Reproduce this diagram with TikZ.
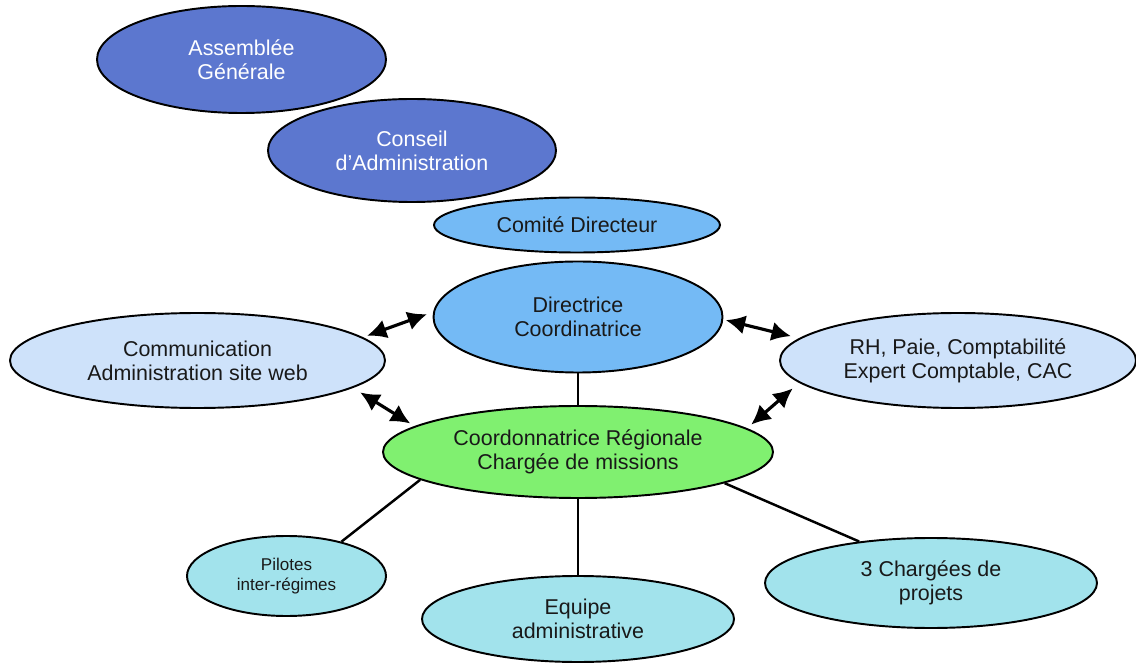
\documentclass[tikz,border=0pt]{standalone}
\usepackage{fontspec}
\setmainfont{Liberation Sans}
\usepackage{xcolor}
\usepackage{tikz}
\usetikzlibrary{shapes.geometric, arrows.meta, positioning}

\definecolor{govblue}{RGB}{92,119,207}
\definecolor{midblue}{RGB}{116,186,245}
\definecolor{paleblue}{RGB}{206,226,250}
\definecolor{coordgreen}{RGB}{128,240,112}
\definecolor{teamcyan}{RGB}{162,227,236}

\begin{document}
\begin{tikzpicture}[
    bubble/.style={ellipse, draw=black, line width=1.1pt, inner sep=0pt, align=center,
                   font=\fontsize{12.2}{13.8}\selectfont, text=black!90},
    link/.style={line width=1.4pt},
    twoway/.style={{Latex[length=11pt,width=11pt]}-{Latex[length=11pt,width=11pt]}, line width=1.8pt}]
% Canvas
\useasboundingbox (0,0) rectangle (22.72,-13.26);

% Governance
\node[bubble, fill=govblue, text=white, minimum width=5.78cm, minimum height=2.14cm] (ag) at (4.83,-1.19) {Assemblée\\Générale};
\node[bubble, fill=govblue, text=white, minimum width=5.76cm, minimum height=2.06cm] (ca) at (8.24,-3.01) {Conseil\\d’Administration};
\node[bubble, fill=midblue, minimum width=5.72cm, minimum height=1.10cm] (cd) at (11.54,-4.50) {Comité Directeur};
\node[bubble, fill=midblue, minimum width=5.78cm, minimum height=2.22cm] (dc) at (11.56,-6.34) {Directrice\\Coordinatrice};

% Support services
\node[bubble, fill=paleblue, minimum width=7.50cm, minimum height=1.90cm] (comm) at (3.95,-7.21) {Communication\\Administration site web};
\node[bubble, fill=paleblue, minimum width=7.12cm, minimum height=1.90cm] (rh) at (19.16,-7.21) {RH, Paie, Comptabilité\\Expert Comptable, CAC};

% Regional coordination and teams
\node[bubble, fill=coordgreen, minimum width=7.80cm, minimum height=1.84cm] (coord) at (11.56,-9.04) {Coordonnatrice Régionale\\Chargée de missions};
\node[bubble, fill=teamcyan, minimum width=3.98cm, minimum height=1.60cm, font=\fontsize{9.7}{11.6}\selectfont] (pil) at (5.73,-11.52) {Pilotes\\inter-régimes};
\node[bubble, fill=teamcyan, minimum width=6.24cm, minimum height=1.72cm] (equ) at (11.56,-12.38) {Equipe\\administrative};
\node[bubble, fill=teamcyan, minimum width=6.64cm, minimum height=1.80cm] (cp) at (18.62,-11.66) {3 Chargées de\\projets};

% Links
\draw[link] (dc.south) -- (coord.north);
\draw[link] (coord.190) -- (pil.32);
\draw[link] (coord.south) -- (equ.north);
\draw[link] (coord.-12) -- (cp.150);

% Exchanges
\draw[twoway, shorten <=0.09cm, shorten >=0.13cm] (comm.8) -- (dc.178);
\draw[twoway, shorten <=0.05cm, shorten >=0.17cm] (dc.-1) -- (rh.172);
\draw[twoway, shorten <=0.17cm, shorten >=0.10cm] (comm.-10) -- (coord.171);
\draw[twoway, shorten <=0.17cm, shorten >=0.11cm] (rh.-172) -- (coord.8);
\end{tikzpicture}
\end{document}
